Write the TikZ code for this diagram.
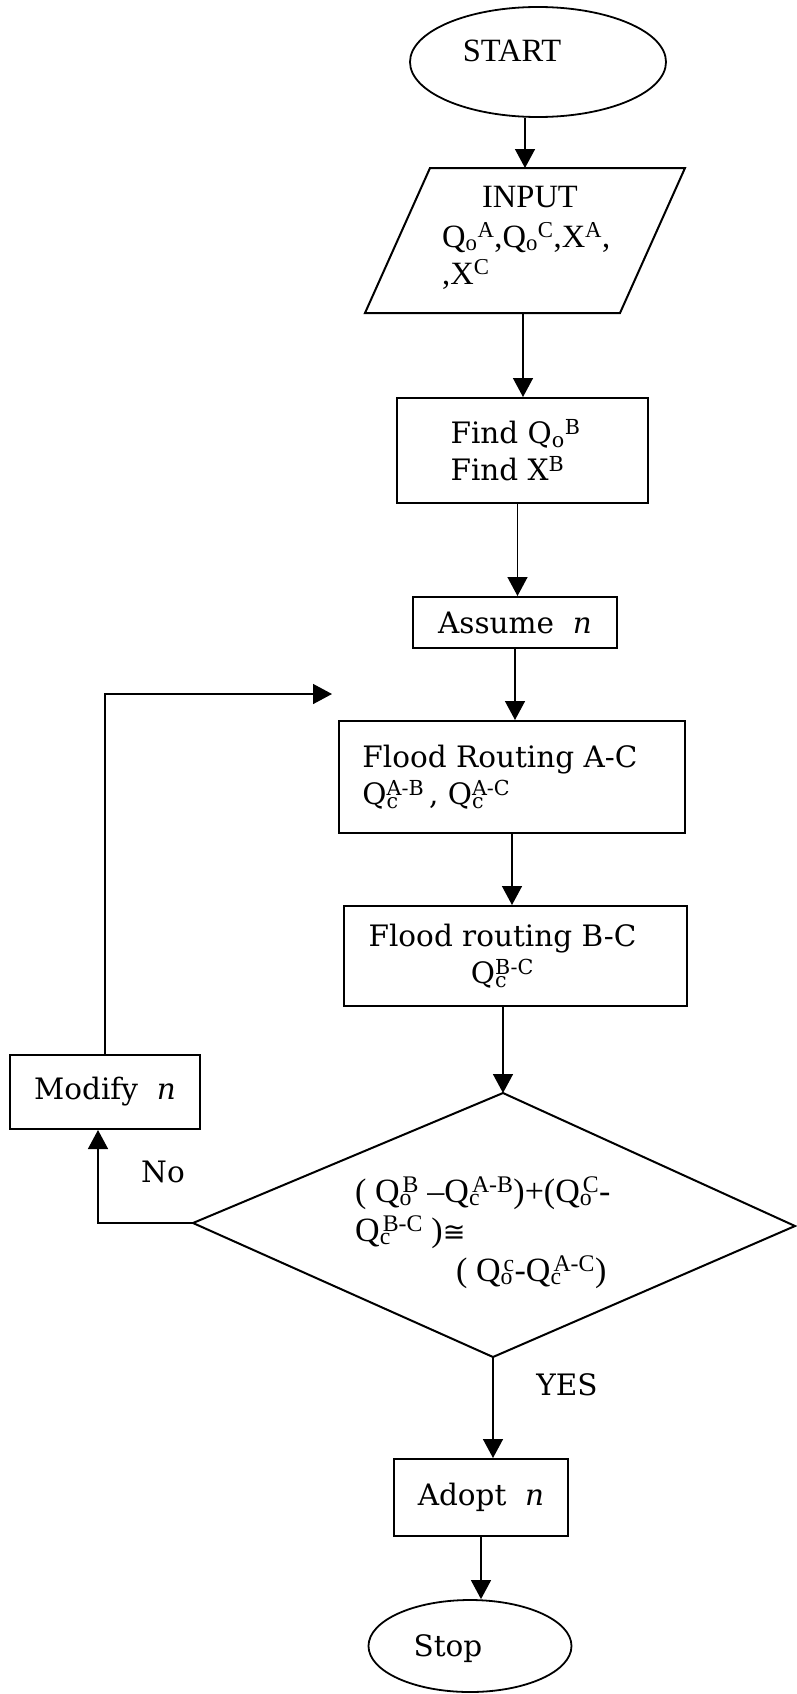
\documentclass[tikz,border=0pt]{standalone}
\usepackage{fontspec}
\setmainfont{DejaVu Serif}
\newfontfamily\tms{Liberation Serif}
\newfontfamily\djs{DejaVu Sans}
\usetikzlibrary{shapes.geometric,arrows.meta}
\newcommand\QQ[2]{Q\rlap{\textsubscript{#1}}\textsuperscript{#2}}
\newcommand\QD[2]{Q\rlap{\textsubscript{#1}}\hspace{3pt}\textsuperscript{#2}}
\begin{document}
\begin{tikzpicture}[x=1pt,y=-1pt,
  box/.style={draw,line width=2pt,rectangle,inner sep=0pt},
  oval/.style={draw,line width=1.8pt,ellipse,inner sep=0pt},
  shp/.style={draw,line width=2pt,line join=miter},
  arr/.style={line width=1.5pt,-{Triangle[length=19pt,width=20pt]}},
  bk/.style={font=\fontsize{29.5}{37}\selectfont},
  tm/.style={font=\tms\fontsize{32.5}{38}\selectfont,inner sep=0pt},
  tmd/.style={font=\tms\fontsize{34}{38}\selectfont,inner sep=0pt},
]
\useasboundingbox (0,0) rectangle (797,1694);

% START
\node[oval,minimum width=256pt,minimum height=110pt] (start) at (538,62) {};
\node[tm,anchor=base] (starttxt) at (512,62) {START};

% INPUT parallelogram
\coordinate (pTL) at (430,168);
\coordinate (pTR) at (685,168);
\coordinate (pBR) at (620,313);
\coordinate (pBL) at (365,313);
\draw[shp] (pTL) -- (pTR) -- (pBR) -- (pBL) -- cycle;
\coordinate (inTop) at (525,168);
\coordinate (inBot) at (523,313);
\node[tm,anchor=base] (inA) at (530,207) {INPUT};
\node[tm,anchor=base west] (inB) at (442,247) {Q\textsubscript{o}\textsuperscript{A},Q\textsubscript{o}\textsuperscript{C},X\textsuperscript{A},};
\node[tm,anchor=base west] (inC) at (442,284) {,X\textsuperscript{C}};

% Find
\node[box,bk,minimum width=251pt,minimum height=105pt,align=left] (find) at (522.5,450.5)
  {\hspace*{-14pt}Find Q\textsubscript{o}\textsuperscript{B}\\\hspace*{-14pt}Find X\textsuperscript{B}};

% Assume
\node[box,bk,minimum width=204pt,minimum height=51pt] (assume) at (515,622.5) {Assume~~\textit{n}};

% Flood routing A-C
\node[box,bk,minimum width=346pt,minimum height=112pt,align=left] (ac) at (512,777)
  {\hspace*{-24pt}Flood Routing A-C\\\hspace*{-24pt}\QQ{c}{A-B}\,, \QQ{c}{A-C}};

% Flood routing B-C
\node[box,bk,minimum width=343pt,minimum height=100pt,align=center] (bc) at (515.5,956)
  {\hspace*{-26pt}Flood routing B-C\\\hspace*{-26pt}\QQ{c}{B-C}};

% Decision diamond
\coordinate (dT) at (503,1093);
\coordinate (dR) at (795,1226);
\coordinate (dB) at (493,1357);
\coordinate (dL) at (193,1223);
\draw[shp] (dT) -- (dR) -- (dB) -- (dL) -- cycle;
\node[tmd,anchor=base west] (d1) at (355,1202) {( \QD{o}{B} –\QD{c}{A-B})+(\QD{o}{C}-};
\node[tmd,anchor=base west] (d2) at (355,1241) {\QD{c}{B-C} ){\djs\fontsize{27}{30}\selectfont ≅}};
\node[tmd,anchor=base west] (d3) at (456,1281) {( \QD{o}{c}-\QD{c}{A-C})};

% Modify
\node[box,bk,minimum width=190pt,minimum height=74pt] (modify) at (105,1092) {Modify~~\textit{n}};

% Adopt
\node[box,bk,minimum width=174pt,minimum height=77pt] (adopt) at (481,1497.5) {Adopt~~\textit{n}};

% Stop
\node[oval,minimum width=203pt,minimum height=92pt] (stop) at (470,1646) {};
\node[bk,anchor=base] (stoptxt) at (448,1656) {Stop};

% labels
\node[bk] (no) at (163,1172) {No};
\node[bk] (yes) at (567,1385) {YES};

% connectors
\draw[arr] ([xshift=-13pt]start.south) -- (inTop);
\draw[arr] (inBot) -- (inBot |- find.north);
\draw[arr] ([xshift=-5pt]find.south) -- ([xshift=-5pt]find.south |- assume.north);
\draw[arr] (assume.south) -- (assume.south |- ac.north);
\draw[arr] (ac.south) -- (ac.south |- bc.north);
\draw[arr] (dT |- bc.south) -- (dT);
\draw[arr] (dB) -- (dB |- adopt.north);
\draw[arr] (adopt.south) -- (adopt.south |- stop.north);
\coordinate (noC) at (98,1223);
\draw[arr] (dL) -- (noC) -- (noC |- modify.south);
\coordinate (loopEnd) at (332,694);
\draw[arr] (modify.north) |- (loopEnd);
\end{tikzpicture}
\end{document}
